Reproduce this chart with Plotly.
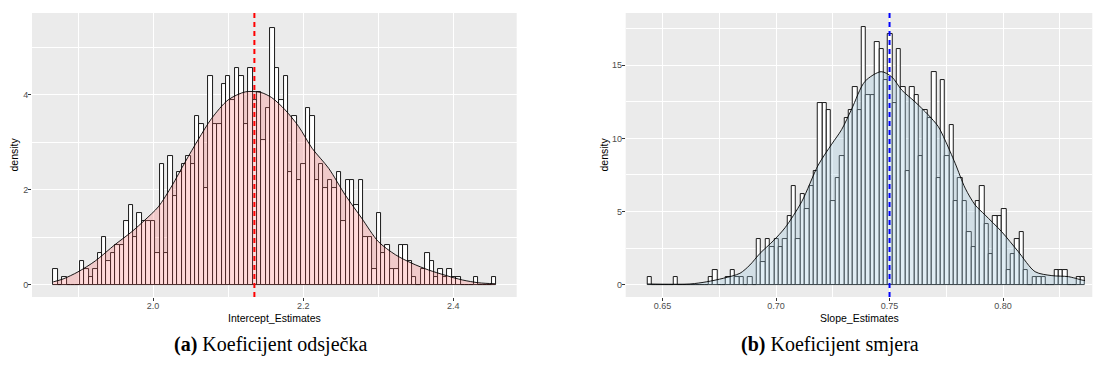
import plotly.graph_objects as go

# ---------------- data: intercept estimates (left panel) ----------------
intercept_bin_start = 1.867
intercept_bin_width = 0.0059
intercept_counts = [
    2, 0, 1, 0, 0, 0, 3, 2, 1, 2,
    4, 6, 3, 4, 5, 5, 8, 10, 6, 9,
    8, 8, 8, 4, 15, 4, 16, 11, 14, 15,
    16, 15, 21, 20, 12, 26, 20, 20, 25, 26,
    23, 27, 26, 20, 27, 23, 24, 18, 22, 32,
    27, 23, 26, 14, 21, 13, 15, 22, 21, 13,
    15, 12, 13, 12, 14, 8, 13, 13, 10, 13,
    6, 6, 2, 9, 4, 5, 2, 2, 5, 5,
    3, 1, 0, 2, 4, 3, 1, 2, 1, 2,
    1, 1, 0, 0, 0, 1, 0, 0, 0, 1,
]
intercept_density_x = [1.867, 1.880, 1.900, 1.923, 1.949, 1.972, 1.989, 2.007, 2.025,
                       2.043, 2.060, 2.078, 2.100, 2.123, 2.143, 2.158, 2.176, 2.194,
                       2.212, 2.234, 2.256, 2.278, 2.300, 2.323, 2.345, 2.367, 2.389,
                       2.412, 2.434, 2.456]
intercept_density_y = [0.06, 0.12, 0.27, 0.50, 0.84, 1.12, 1.36, 1.64, 2.08,
                       2.59, 3.05, 3.50, 3.89, 4.06, 4.05, 3.94, 3.68, 3.33,
                       2.87, 2.45, 1.89, 1.40, 0.91, 0.63, 0.45, 0.31, 0.20,
                       0.10, 0.04, 0.02]
intercept_line = 2.135

# ---------------- data: slope estimates (right panel) ----------------
slope_bin_start = 0.6433
slope_bin_width = 0.001928
slope_counts = [
    1, 0, 0, 0, 0, 0, 1, 0, 0, 0,
    0, 0, 0, 0, 1, 2, 0, 0, 1, 2,
    1, 1, 0, 1, 0, 6, 3, 6, 5, 6,
    5, 6, 9, 13, 6, 12, 10, 13, 15, 24,
    24, 23, 11, 14, 17, 22, 23, 26, 23, 34,
    25, 25, 32, 31, 27, 33, 24, 31, 26, 15,
    26, 25, 17, 23, 22, 28, 14, 27, 17, 21,
    11, 14, 11, 7, 5, 11, 13, 8, 4, 9,
    9, 10, 2, 4, 6, 7, 2, 0, 1, 1,
    1, 0, 0, 2, 2, 2, 0, 0, 1, 1,
]
slope_density_x = [0.6433, 0.6621, 0.6695, 0.6768, 0.6841, 0.6885, 0.6930, 0.6988,
                   0.7040, 0.7113, 0.7186, 0.7245, 0.7289, 0.7333, 0.7392, 0.7463,
                   0.7510, 0.7554, 0.7612, 0.7671, 0.7715, 0.7744, 0.7789, 0.7833,
                   0.7877, 0.7921, 0.7994, 0.8067, 0.8141, 0.8215, 0.8288, 0.8347,
                   0.8361]
slope_density_y = [0.05, 0.05, 0.20, 0.44, 0.78, 1.35, 2.15, 3.00,
                   3.90, 5.67, 8.18, 9.60, 10.60, 12.00, 13.90, 14.56,
                   14.20, 13.30, 12.50, 11.60, 10.80, 9.90, 8.30, 6.60,
                   5.45, 4.76, 3.62, 2.26, 0.89, 0.62, 0.55, 0.32,
                   0.28]
slope_line = 0.75

x_titles = ["Intercept_Estimates", "Slope_Estimates"]
captions = ["<b>(a)</b> Koeficijent odsječka", "<b>(b)</b> Koeficijent smjera"]

# ---------------- figure ----------------
W, H = 1093, 365
fig = go.Figure()


def add_panel(counts, start, width, dx, dy, fillcolor, xa, ya):
    n = sum(counts)
    centers = [start + width * (i + 0.5) for i in range(len(counts))]
    dens = [c / (n * width) for c in counts]
    fig.add_trace(go.Bar(
        x=centers, y=dens, width=[width] * len(counts),
        marker=dict(color="white", line=dict(color="black", width=0.9)),
        xaxis=xa, yaxis=ya, showlegend=False, hoverinfo="skip",
    ))
    fig.add_trace(go.Scatter(
        x=dx, y=dy, mode="lines", fill="tozeroy", fillcolor=fillcolor,
        line=dict(color="black", width=0.9, shape="spline", smoothing=0.8),
        xaxis=xa, yaxis=ya, showlegend=False, hoverinfo="skip",
    ))


add_panel(intercept_counts, intercept_bin_start, intercept_bin_width,
          intercept_density_x, intercept_density_y, "rgba(255,102,102,0.25)", "x", "y")
add_panel(slope_counts, slope_bin_start, slope_bin_width,
          slope_density_x, slope_density_y, "rgba(160,200,222,0.32)", "x2", "y2")

ydom = [1 - 297 / H, 1 - 13 / H]
left_dom = [32 / W, 516.7 / W]
right_dom = [625.7 / W, 1092.3 / W]

tickfont = dict(family="Liberation Sans, Arial, sans-serif", size=9, color="#4D4D4D")
common = dict(
    showgrid=True, gridcolor="white", gridwidth=1.1, zeroline=False, showline=False,
    ticks="outside", ticklen=3, tickwidth=0.6, tickcolor="#333333",
    tickfont=tickfont, fixedrange=True,
)
xcommon = dict(common, ticklabelstandoff=-3)
ycommon = dict(common, ticklabelstandoff=-2)

fig.update_layout(
    width=W, height=H,
    margin=dict(l=0, r=0, t=0, b=0),
    paper_bgcolor="white", plot_bgcolor="#EBEBEB",
    bargap=0,
    xaxis=dict(domain=left_dom, range=[1.8387, 2.4845], tick0=2.0, dtick=0.2,
               tickformat=".1f", anchor="y",
               minor=dict(tick0=1.9, dtick=0.2, showgrid=True, gridcolor="white",
                          gridwidth=0.5, ticks=""), **xcommon),
    yaxis=dict(domain=ydom, range=[-0.259, 5.72], tick0=0, dtick=2, anchor="x",
               minor=dict(tick0=1, dtick=2, showgrid=True, gridcolor="white",
                          gridwidth=0.5, ticks=""), **ycommon),
    xaxis2=dict(domain=right_dom, range=[0.63379, 0.8393], tick0=0.65, dtick=0.05,
                tickformat=".2f", anchor="y2",
                minor=dict(tick0=0.675, dtick=0.05, showgrid=True, gridcolor="white",
                           gridwidth=0.5, ticks=""), **xcommon),
    yaxis2=dict(domain=ydom, range=[-0.84, 18.57], tick0=0, dtick=5, anchor="x2",
                minor=dict(tick0=2.5, dtick=5, showgrid=True, gridcolor="white",
                           gridwidth=0.5, ticks=""), **ycommon),
)

dash_style = "5px,4px"
fig.add_shape(type="line", xref="x", yref="y domain", x0=intercept_line, x1=intercept_line,
              y0=0, y1=1, line=dict(color="#FF0000", width=2, dash=dash_style))
fig.add_shape(type="line", xref="x2", yref="y2 domain", x0=slope_line, x1=slope_line,
              y0=0, y1=1, line=dict(color="#0000FF", width=2, dash=dash_style))

title_font = dict(family="Liberation Sans, Arial, sans-serif", size=10.5, color="black")
cap_font = dict(family="Liberation Serif, Times New Roman, serif", size=20, color="black")

for dom, xt, cap, ytx, capx in [(left_dom, x_titles[0], captions[0], 13.5, 270),
                                (right_dom, x_titles[1], captions[1], 603.5, 830)]:
    fig.add_annotation(text=xt, xref="paper", yref="paper", x=(dom[0] + dom[1]) / 2,
                       y=1 - 318 / H, xanchor="center", yanchor="middle",
                       showarrow=False, font=title_font)
    fig.add_annotation(text="density", xref="paper", yref="paper", x=ytx / W,
                       y=1 - 155 / H, xanchor="center", yanchor="middle", textangle=-90,
                       showarrow=False, font=title_font)
    fig.add_annotation(text=cap, xref="paper", yref="paper", x=capx / W,
                       y=1 - 344 / H, xanchor="center", yanchor="middle",
                       showarrow=False, font=cap_font)

fig.write_html(
    "out.html",
    config={"displayModeBar": False},
    post_script="document.body.style.margin='0';document.body.style.overflow='hidden';",
)
